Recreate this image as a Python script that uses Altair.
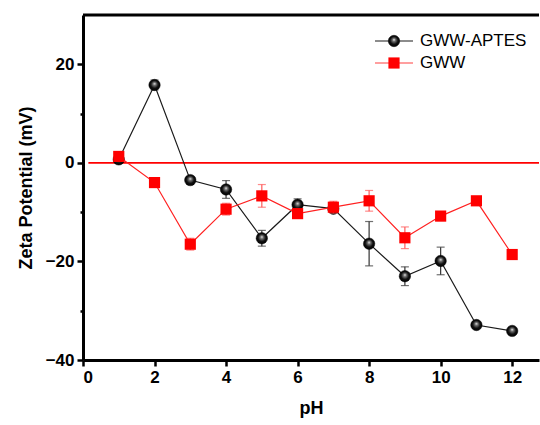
import altair as alt
import pandas as pd

ph = [1, 2, 3, 4, 5, 6, 7, 8, 9, 10, 11, 12]
aptes = [0.7, 15.8, -3.5, -5.4, -15.3, -8.5, -9.3, -16.4, -23.0, -19.9, -32.9, -34.1]
aptes_err = [0.3, 1.0, 0.4, 1.8, 1.6, 1.2, 0.4, 4.5, 1.9, 2.8, 0.4, 0.3]
gww = [1.3, -4.0, -16.5, -9.4, -6.7, -10.3, -9.0, -7.7, -15.2, -10.8, -7.7, -18.6]
gww_err = [0.3, 0.3, 1.2, 1.2, 2.3, 0.8, 1.2, 2.1, 2.2, 0.9, 0.3, 0.3]
series_names = ["GWW-APTES", "GWW"]

FONT = "Liberation Sans"
XMAX = 12.75
YMIN, YMAX = -40, 30

df_a = pd.DataFrame({"pH": ph, "v": aptes,
                     "lo": [v - e for v, e in zip(aptes, aptes_err)],
                     "hi": [v + e for v, e in zip(aptes, aptes_err)]})
df_g = pd.DataFrame({"pH": ph, "v": gww,
                     "lo": [v - e for v, e in zip(gww, gww_err)],
                     "hi": [v + e for v, e in zip(gww, gww_err)]})
zero_df = pd.DataFrame({"x": [0.15], "x2": [XMAX], "y": [0]})
top_df = pd.DataFrame({"x": [0], "x2": [XMAX], "y": [YMAX]})

xscale = alt.Scale(domain=[0, XMAX], nice=False, zero=False)
yscale = alt.Scale(domain=[YMIN, YMAX], nice=False, zero=False)

xaxis = alt.Axis(values=list(range(0, 13)), title="pH",
                 labelExpr="datum.value % 2 === 0 ? datum.label : ''",
                 tickSize={"condition": {"test": "datum.value % 2 === 0", "value": 6}, "value": 3},
                 grid=False)
yaxis = alt.Axis(values=[-40, -30, -20, -10, 0, 10, 20], title="Zeta Potential (mV)",
                 labelExpr="datum.value % 20 === 0 ? datum.label : ''",
                 tickSize={"condition": {"test": "datum.value % 20 === 0", "value": 6}, "value": 3},
                 grid=False)

sphere = {
    "gradient": "radial",
    "x1": 0.5, "y1": 0.38, "r1": 0.0,
    "x2": 0.5, "y2": 0.5, "r2": 0.55,
    "stops": [
        {"offset": 0.0, "color": "#f0f0f0"},
        {"offset": 0.25, "color": "#707070"},
        {"offset": 0.6, "color": "#101010"},
        {"offset": 1.0, "color": "#000000"},
    ],
}

zero = alt.Chart(zero_df).mark_rule(color="#ff0000", strokeWidth=1.8).encode(
    x=alt.X("x:Q", scale=xscale, axis=xaxis),
    x2="x2:Q",
    y=alt.Y("y:Q", scale=yscale, axis=yaxis),
)

top = alt.Chart(top_df).mark_rule(color="black", strokeWidth=3).encode(
    x=alt.X("x:Q", scale=xscale), x2="x2:Q", y=alt.Y("y:Q", scale=yscale))

base_a = alt.Chart(df_a)
base_g = alt.Chart(df_g)

a_line = base_a.mark_line(color="#1a1a1a", strokeWidth=1.2).encode(
    x=alt.X("pH:Q", scale=xscale), y=alt.Y("v:Q", scale=yscale))
a_err = base_a.mark_rule(color="#333333", strokeWidth=1.2).encode(
    x="pH:Q", y="lo:Q", y2="hi:Q")
a_cap_lo = base_a.mark_tick(color="#333333", thickness=1.2, size=8, orient="horizontal").encode(
    x="pH:Q", y="lo:Q")
a_cap_hi = base_a.mark_tick(color="#333333", thickness=1.2, size=8, orient="horizontal").encode(
    x="pH:Q", y="hi:Q")
a_pt = base_a.mark_point(shape="circle", filled=True, fill=sphere, size=130, opacity=1,
                         stroke="#000000", strokeWidth=0.5).encode(
    x="pH:Q", y="v:Q")

g_line = base_g.mark_line(color="#ff2020", strokeWidth=1.2).encode(
    x=alt.X("pH:Q", scale=xscale), y=alt.Y("v:Q", scale=yscale))
g_err = base_g.mark_rule(color="#ff5a5a", strokeWidth=1.2).encode(
    x="pH:Q", y="lo:Q", y2="hi:Q")
g_cap_lo = base_g.mark_tick(color="#ff5a5a", thickness=1.2, size=8, orient="horizontal").encode(
    x="pH:Q", y="lo:Q")
g_cap_hi = base_g.mark_tick(color="#ff5a5a", thickness=1.2, size=8, orient="horizontal").encode(
    x="pH:Q", y="hi:Q")
g_pt = base_g.mark_point(shape="square", filled=True, color="#ff0000", size=125, opacity=1).encode(
    x="pH:Q", y="v:Q")

# manual legend
leg_a = pd.DataFrame({"name": [series_names[0]]})
leg_g = pd.DataFrame({"name": [series_names[1]]})
LX0, LX1, LM, LT = 292, 330, 311, 337
R1, R2 = 26, 48
la_line = alt.Chart(leg_a).mark_rule(color="#1a1a1a", strokeWidth=1.2).encode(
    x=alt.value(LX0), x2=alt.value(LX1), y=alt.value(R1))
la_pt = alt.Chart(leg_a).mark_point(shape="circle", filled=True, fill=sphere, size=130, opacity=1,
                                    stroke="#000000", strokeWidth=0.5).encode(
    x=alt.value(LM), y=alt.value(R1))
la_txt = alt.Chart(leg_a).mark_text(align="left", baseline="middle", font=FONT, fontSize=17,
                                    color="black").encode(
    x=alt.value(LT), y=alt.value(R1), text="name:N")
lg_line = alt.Chart(leg_g).mark_rule(color="#ff4040", strokeWidth=1.2).encode(
    x=alt.value(LX0), x2=alt.value(LX1), y=alt.value(R2))
lg_pt = alt.Chart(leg_g).mark_point(shape="square", filled=True, color="#ff0000", size=125,
                                    opacity=1).encode(
    x=alt.value(LM), y=alt.value(R2))
lg_txt = alt.Chart(leg_g).mark_text(align="left", baseline="middle", font=FONT, fontSize=17,
                                    color="black").encode(
    x=alt.value(LT), y=alt.value(R2), text="name:N")

chart = alt.layer(
    zero, top,
    a_line, a_err, a_cap_lo, a_cap_hi, a_pt,
    g_line, g_err, g_cap_lo, g_cap_hi, g_pt,
    la_line, la_pt, la_txt, lg_line, lg_pt, lg_txt,
).properties(
    width=456, height=345,
    autosize=alt.AutoSizeParams(type="none"),
    padding={"left": 83, "top": 15, "right": 1, "bottom": 65},
).configure_view(stroke=None).configure_axis(
    domainColor="black", domainWidth=3, tickColor="black", tickWidth=2.5,
    labelFont=FONT, labelFontSize=17, labelFontWeight="bold", labelColor="black",
    titleFont=FONT, titleFontSize=18, titleFontWeight="bold", titleColor="black",
    labelPadding=3,
).configure_axisX(titlePadding=14).configure_axisY(titlePadding=10)

chart.save("out.html", embed_options={"renderer": "svg", "actions": False})
